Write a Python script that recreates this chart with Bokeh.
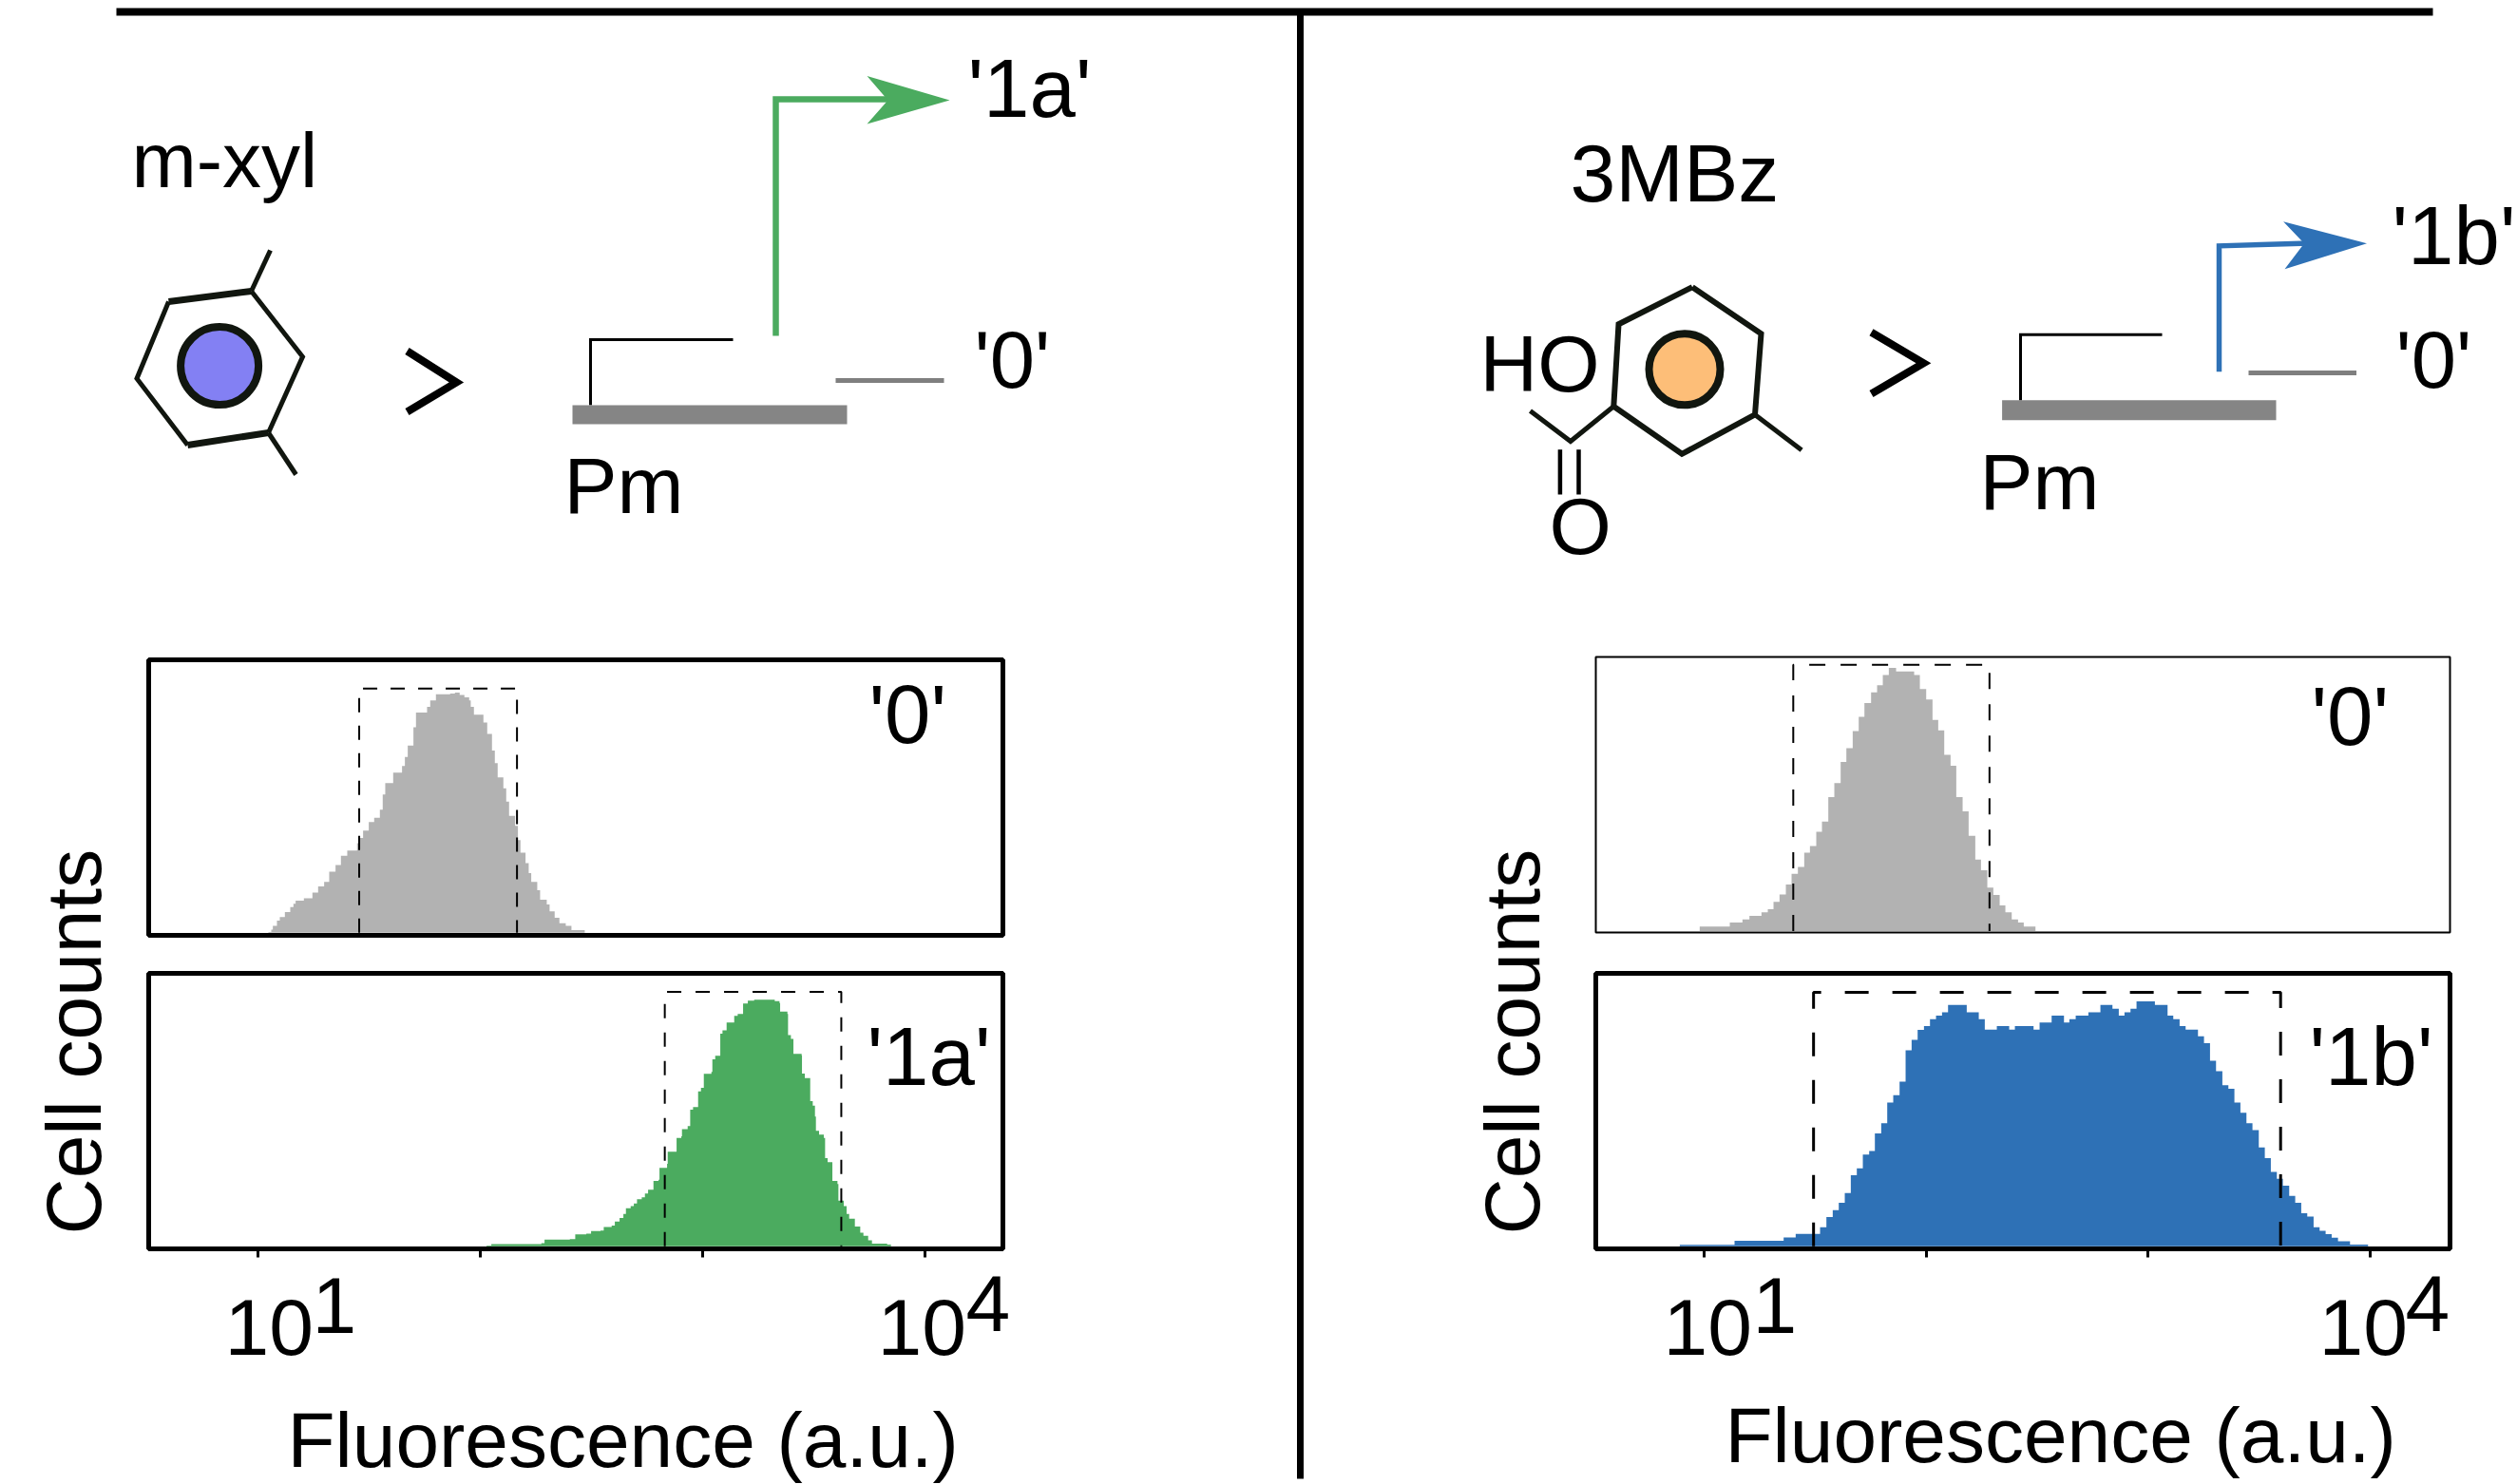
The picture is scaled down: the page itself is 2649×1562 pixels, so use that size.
import numpy as np
from bokeh.embed import file_html
from bokeh.resources import INLINE
from bokeh.models import GridBox, Range1d, FixedTicker
from bokeh.plotting import figure
from bokeh.core.properties import value

FONT = value("Liberation Sans")

# ---- data: histogram steps, as cytometer channels (1 channel = 1/702 decade) and % of panel height
m_xyl_0_ch = [36,45,50,63,72,88,105,115,122,148,175,193,212,228,248,265,285,316,325,335,353,370,388,397,405,430,458,467,476,494,502,537,547,565,610,625,640,655,670,675,685,715,727,742,751,760,778,787,796,815,824,832,848,858,866,885,894,915,924,940,955,975,993,1035]
m_xyl_0_h = [0.2,1.1,2.5,4.4,5.7,7.5,9.4,10.6,11.7,12.6,14.7,16.9,18.6,22.3,24.8,28.2,30.1,32.8,34.7,37.4,40.5,42.1,45.1,50.6,54.8,58.6,61.1,64.4,68.6,75.3,80.7,82.8,85.1,87.4,87.6,88.0,87.1,86.2,85.1,82.8,79.9,77.0,72.8,66.7,62.1,56.9,52.9,48.0,42.8,39.1,33.9,29.3,25.5,21.8,18.6,15.5,12.1,10.3,7.8,5.4,3.4,2.5,0.9]

m_xyl_1a_ch = [35,50,208,218,298,315,350,365,395,405,430,440,455,467,475,490,500,510,525,535,545,562,578,581,605,607,635,650,652,670,678,687,703,712,721,745,748,757,773,780,793,817,828,845,860,880,945,960,962,985,987,996,1004,1030,1031,1040,1057,1065,1072,1075,1085,1100,1104,1112,1127,1143,1146,1163,1172,1180,1198,1215,1225,1240,1252,1300,1312]
m_xyl_1a_h = [0.2,0.7,1.1,2.4,2.6,4.3,4.6,5.5,5.7,7.0,7.5,9.0,10.3,11.8,13.9,14.7,15.6,17.2,17.9,19.3,20.7,23.9,24.3,28.7,30.2,34.6,39.7,40.3,42.9,44.0,50.0,51.0,56.7,58.0,63.2,63.9,68.5,69.8,77.9,79.1,82.0,84.4,85.1,88.9,90.0,90.3,89.8,89.1,86.0,85.1,77.4,76.0,70.5,69.9,63.3,61.6,53.2,51.5,47.5,42.3,40.9,39.7,32.3,30.8,23.9,22.8,16.7,14.7,11.8,10.1,7.2,4.9,3.8,2.1,0.9,0.6]

mbz_0_ch = [55,150,190,212,250,270,288,307,327,345,365,385,403,423,441,461,480,500,518,538,557,575,596,615,633,652,675,732,750,770,790,808,827,847,865,885,904,925,943,963,982,1002,1020,1040,1060,1078,1115]
mbz_0_h = [1.7,3.1,4.3,5.6,6.9,8.0,10.7,13.4,17.0,20.9,23.4,28.6,31.0,36.2,40.0,48.9,54.0,61.7,66.7,73.0,78.2,83.2,87.1,89.7,93.4,96.0,94.7,93.4,88.3,84.5,77.0,73.2,64.3,60.3,48.9,43.7,34.8,26.1,22.2,15.9,13.2,9.4,6.9,4.3,3.1,1.7]

mbz_1b_ch = [22,195,350,388,465,485,505,524,543,562,581,600,620,638,658,677,696,716,735,754,773,793,812,831,850,869,928,966,985,1023,1062,1080,1139,1158,1196,1235,1252,1272,1312,1350,1388,1408,1426,1445,1464,1522,1562,1580,1600,1619,1658,1677,1696,1715,1735,1754,1773,1792,1811,1830,1850,1869,1888,1907,1926,1946,1965,1984,2003,2023,2042,2061,2080,2100,2138,2195]
mbz_1b_h = [0.5,2.0,3.2,4.5,6.9,10.7,13.2,15.9,19.5,26.0,28.5,33.6,34.9,41.3,45.1,52.6,55.3,60.3,71.8,75.6,79.3,80.7,83.2,84.5,85.7,88.4,85.7,83.2,79.4,80.7,79.4,80.7,79.4,82.0,84.5,82.0,83.2,84.5,85.7,88.4,87.0,84.5,85.7,87.0,89.7,88.4,84.5,83.2,80.7,79.4,76.9,74.4,68.0,64.1,59.0,57.7,52.6,48.9,45.1,42.5,36.2,32.3,27.2,24.7,22.2,18.4,15.9,12.1,10.8,6.9,5.6,4.4,3.1,1.8,0.6]

# gates: (low fluorescence, high fluorescence, top in % of panel height)
gate_m_xyl_0 = (28.4, 145.6, 89.5)
gate_m_xyl_1a = (673.0, 4188.0, 93.2)
gate_mbz_0 = (25.2, 192.8, 97.1)
gate_mbz_1b = (31.1, 3945.0, 93.0)

tick_values = [10, 100, 1000, 10000]

GREY = "#B2B2B2"
GREEN = "#4BAB5F"
BLUE = "#2E71B6"
BAR = "#858585"


def panel(ch, h, c0, per, color, gate, xr, w, ht, top, bottom, right, lw, ystart, dash, gate_w, axis=False):
    assert len(ch) == len(h) + 1, (len(ch), len(h))
    x = 10 ** (c0 + np.array(ch, dtype=float) / per)
    y = list(h) + [0]
    p = figure(width=w, height=ht, x_axis_type="log", x_range=Range1d(*xr), y_range=Range1d(ystart, 100),
               toolbar_location=None, output_backend="svg",
               x_axis_location="below" if axis else None, y_axis_location=None,
               min_border_left=6, min_border_right=right, min_border_top=top, min_border_bottom=bottom,
               border_fill_color=None, background_fill_color=None)
    p.grid.visible = False
    p.outline_line_color = "black"
    p.outline_line_width = lw
    p.varea_step(x=x, y1=y, y2=[0] * len(y), step_mode="after", fill_color=color)
    lo, hi, t = gate
    p.line(x=[lo, lo, hi, hi], y=[0, t, t, 0], line_color="black", line_width=gate_w, line_dash=dash)
    if axis:
        ax = p.xaxis[0]
        ax.ticker = FixedTicker(ticks=tick_values)
        ax.axis_line_color = None
        ax.major_tick_out = 9
        ax.major_tick_in = 0
        ax.minor_tick_out = 0
        ax.minor_tick_in = 0
        ax.major_tick_line_width = 3
        ax.major_tick_line_color = "black"
        ax.major_label_standoff = 0
        ax.major_label_overrides = {t_: "" for t_ in tick_values}
    return p


xr_left = (10 ** 0.5064, 10 ** 4.349)
xr_right = (10 ** 0.5122, 10 ** 4.359)

pa = panel(m_xyl_0_ch, m_xyl_0_h, 0.9936, 702, GREY, gate_m_xyl_0, xr_left, 912, 302, 6, 6, 7, 5, -1, "15 14", 2)
pb = panel(m_xyl_1a_ch, m_xyl_1a_h, 1.9765, 702, GREEN, gate_m_xyl_1a, xr_left, 912, 316, 6, 20, 7, 5, -1, "15 15", 2, True)
pc = panel(mbz_0_ch, mbz_0_h, 0.9016, 701, GREY, gate_mbz_0, xr_right, 911, 302, 6, 6, 6, 2, -0.5, "17 16", 2)
pd = panel(mbz_1b_ch, mbz_1b_h, 0.8588, 701, BLUE, gate_mbz_1b, xr_right, 911, 316, 6, 20, 6, 5, -1, "25 25", 3, True)

# ---- background sheet: frame lines, molecule and promoter sketches, texts (page pixels)
bg = figure(width=2649, height=1562, x_range=Range1d(0, 2649), y_range=Range1d(1562, 0),
            toolbar_location=None, output_backend="svg", min_border=0,
            x_axis_location=None, y_axis_location=None, background_fill_color="white", border_fill_color="white")
bg.grid.visible = False
bg.outline_line_color = None


def poly(xy, color="black", w=5, join="miter", cap="butt"):
    xs, ys = zip(*xy)
    bg.line(x=list(xs), y=list(ys), line_color=color, line_width=w, line_join=join, line_cap=cap)


poly([(122, 12), (2560, 12)], w=8)
poly([(1368, 12), (1368, 1556)], w=7)

# m-xyl ring
INK = "#11160F"
poly([(177, 317), (143.5, 398), (197, 468)], INK, 5)
poly([(264, 306), (318, 375), (282, 455)], INK, 5)
poly([(177, 317), (264, 306)], INK, 7)
poly([(197, 468), (282, 455)], INK, 7)
poly([(264, 306), (284, 263)], INK, 5)
poly([(282, 455), (311, 499)], INK, 5)
bg.scatter(x=[230.6], y=[384.6], size=82, marker="circle", fill_color="#8380F3", line_color=INK, line_width=8)
poly([(428, 369), (480, 402), (428, 433)], "black", 8)

# promoter, left
poly([(621, 426), (621, 357), (771, 357)], "black", 3)
bg.quad(left=[602], right=[891], top=[426], bottom=[446], fill_color=BAR, line_color=None)
poly([(816, 353), (816, 104), (940, 104)], GREEN, 6.5)
bg.patch(x=[912, 999, 912, 934], y=[79.6, 105, 130, 105], fill_color=GREEN, line_color=None)
poly([(879, 400), (993, 400)], "#7F7F7F", 5)

# 3MBz ring
poly([(1780.6, 301.7), (1853, 350.7), (1846.5, 436), (1769.6, 477.3), (1697.8, 427.3), (1703, 340.7), (1780.6, 301.7)], INK, 6)
poly([(1846.5, 436), (1895.6, 473.3)], INK, 5)
poly([(1697.8, 427.3), (1652.4, 464), (1610, 432)], INK, 5)
poly([(1641.4, 472.7), (1641.4, 520)], "black", 4.5)
poly([(1661, 472.7), (1661, 520)], "black", 4.5)
bg.scatter(x=[1772.5], y=[388.3], size=75, marker="circle", fill_color="#FDBE78", line_color=INK, line_width=8)
poly([(1969, 349.3), (2024, 381.7), (1969, 414)], "black", 8)

# promoter, right
poly([(2126, 421), (2126, 351.7), (2275, 351.7)], "black", 3)
bg.quad(left=[2106.6], right=[2395], top=[420.7], bottom=[441.7], fill_color=BAR, line_color=None)
poly([(2335, 390.7), (2335, 258.3), (2430, 255.5)], BLUE, 5.5)
bg.patch(x=[2402.6, 2490.5, 2404, 2424.5], y=[232.7, 255.7, 282.7, 255.7], fill_color=BLUE, line_color=None)
poly([(2366, 392), (2479.5, 392)], "#7F7F7F", 5)

# texts: x, baseline y, string, font size
labels = [
    (138, 197, "m-xyl", 82), (1018, 123, "'1a'", 87), (1025, 408, "'0'", 85), (593, 540, "Pm", 84),
    (1652, 212, "3MBz", 86), (2517, 278, "'1b'", 87), (2521, 408, "'0'", 85), (2083, 536, "Pm", 84),
    (1557, 412, "HO", 84), (1630, 583, "O", 84),
    (914, 782, "'0'", 87), (912, 1142, "'1a'", 87), (2432, 784, "'0'", 87), (2430, 1142, "'1b'", 87),
    (236, 1426, "10", 84), (923, 1426, "10", 84), (1750, 1426, "10", 84), (2440, 1426, "10", 84),
    (328, 1403, "1", 84), (1016, 1401, "4", 84), (1844, 1403, "1", 84), (2531, 1401, "4", 84),
    (302, 1544, "Fluorescence (a.u.)", 82), (1815, 1539, "Fluorescence (a.u.)", 82),
]
for x_, y_, s_, size_ in labels:
    bg.text(x=[x_], y=[y_], text=[s_], y_offset=-size_ * 30 / 84,
            text_font=FONT, text_font_size=f"{size_}px", text_color="black",
            text_baseline="alphabetic", text_align="left")
bg.text(x=[106, 1620], y=[1299, 1299], text=["Cell counts", "Cell counts"], angle=np.pi / 2, x_offset=-29,
        text_font=FONT, text_font_size="82px", text_color="black", text_baseline="alphabetic", text_align="left")

# ---- stacking: panels sit on the sheet, in explicit grid tracks
cols = ["150px", "912px", "611px", "911px", "65px"]
rows = ["685px", "3px", "299px", "3px", "28px", "316px", "228px"]
layout = GridBox(children=[(bg, 0, 0, 7, 5), (pa, 2, 1, 2, 1), (pb, 5, 1, 1, 1), (pc, 1, 3, 2, 1), (pd, 5, 3, 1, 1)],
                 rows=rows, cols=cols, spacing=0)
open("out.html", "w").write(file_html(layout, INLINE))
